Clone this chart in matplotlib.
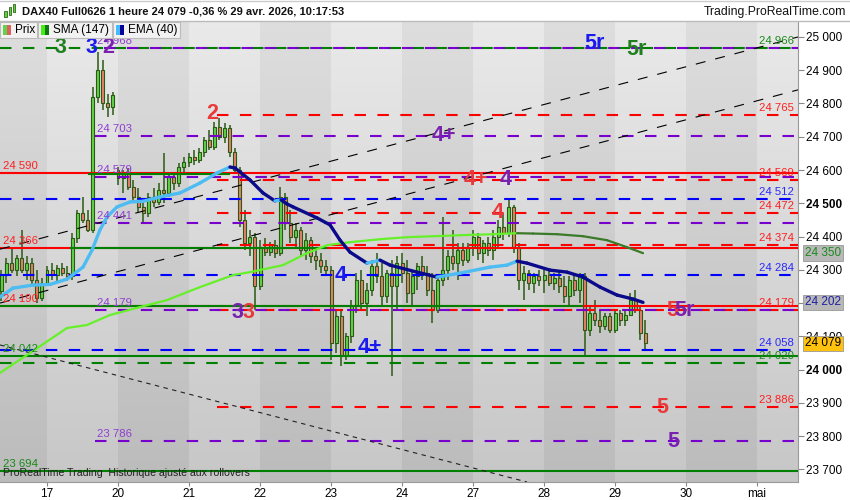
import numpy as np
import matplotlib
matplotlib.use("Agg")
import matplotlib.pyplot as plt
from matplotlib.collections import LineCollection
from matplotlib.patches import Rectangle
from matplotlib.lines import Line2D

plt.rcParams['font.family'] = ['Liberation Sans', 'DejaVu Sans']

# ---- data --------------------------------------------------------------
# x axis in trading days, 0 = 17 avr., one bar per hour (14 slots a day)
day_labels = ['17', '20', '21', '22', '23', '24', '27', '28', '29', '30', 'mai']
sessions = [(-1, 5, 13)] + [(d, 0, 13) for d in range(8)] + [(8, 0, 6)]

opens = [24235, 24285, 24320, 24300, 24335, 24300, 24320, 24270, 24215,
         24260, 24300, 24285, 24305, 24290, 24280, 24395, 24470, 24450, 24420, 24820, 24900, 24800, 24790,
         24600, 24575, 24590, 24550, 24520, 24490, 24470, 24520, 24505, 24540, 24530, 24580, 24560, 24610,
         24625, 24640, 24630, 24655, 24690, 24670, 24730, 24700, 24725, 24655, 24600, 24450, 24380, 24400,
         24250, 24370, 24355, 24375, 24350, 24520, 24440, 24400, 24420, 24360, 24390, 24340, 24330, 24310,
         24300, 24080, 24160, 24040, 24100, 24190, 24270, 24200, 24240, 24310, 24280, 24220, 24290, 24250,
         24320, 24290, 24230, 24280, 24310, 24290, 24240, 24180, 24270, 24300, 24340, 24320, 24360, 24330,
         24370, 24400, 24350, 24380, 24360, 24400, 24430, 24410, 24490, 24370, 24270, 24290, 24260, 24280,
         24270, 24285, 24260, 24275, 24250, 24220, 24270, 24240, 24280, 24120, 24170, 24150, 24130, 24160,
         24120, 24170, 24150, 24165, 24210, 24180, 24110]
highs = [24300, 24335, 24365, 24345, 24420, 24340, 24335, 24300, 24275,
         24310, 24320, 24315, 24320, 24310, 24410, 24480, 24520, 24480, 24850, 24955, 24930, 24830, 24835,
         24610, 24600, 24605, 24570, 24545, 24510, 24530, 24545, 24560, 24650, 24590, 24595, 24620, 24640,
         24650, 24660, 24665, 24700, 24720, 24745, 24755, 24740, 24735, 24665, 24610, 24480, 24420, 24410,
         24390, 24395, 24385, 24390, 24550, 24530, 24480, 24440, 24430, 24410, 24400, 24360, 24350, 24330,
         24310, 24180, 24175, 24110, 24210, 24290, 24300, 24260, 24330, 24350, 24320, 24300, 24330, 24340,
         24350, 24330, 24300, 24320, 24340, 24310, 24290, 24280, 24460, 24360, 24420, 24380, 24380, 24380,
         24420, 24410, 24390, 24400, 24420, 24450, 24470, 24510, 24495, 24380, 24310, 24300, 24290, 24300,
         24300, 24300, 24290, 24300, 24280, 24280, 24290, 24290, 24290, 24190, 24210, 24180, 24170, 24170,
         24180, 24180, 24175, 24230, 24240, 24190, 24150]
lows = [24205, 24260, 24290, 24280, 24290, 24270, 24255, 24200, 24205,
        24250, 24270, 24265, 24280, 24265, 24270, 24380, 24440, 24415, 24410, 24800, 24780, 24760, 24765,
        24555, 24530, 24540, 24500, 24470, 24440, 24460, 24490, 24495, 24500, 24520, 24540, 24550, 24590,
        24610, 24615, 24620, 24640, 24660, 24660, 24690, 24680, 24640, 24590, 24430, 24360, 24340, 24180,
        24240, 24340, 24340, 24335, 24340, 24420, 24380, 24370, 24340, 24330, 24320, 24300, 24290, 24280,
        24030, 24050, 24010, 24030, 24080, 24170, 24180, 24160, 24220, 24260, 24190, 24200, 23980, 24180,
        24260, 24200, 24190, 24240, 24270, 24220, 24140, 24170, 24250, 24270, 24300, 24270, 24310, 24320,
        24340, 24330, 24320, 24340, 24330, 24370, 24390, 24400, 24350, 24240, 24210, 24240, 24230, 24250,
        24230, 24250, 24240, 24230, 24200, 24190, 24220, 24200, 24040, 24100, 24130, 24110, 24120, 24110,
        24110, 24130, 24130, 24160, 24170, 24090, 24060]
closes = [24285, 24320, 24300, 24335, 24300, 24320, 24270, 24215, 24260,
          24300, 24285, 24305, 24290, 24280, 24395, 24470, 24450, 24420, 24820, 24900, 24800, 24790, 24825,
          24575, 24590, 24550, 24520, 24490, 24470, 24520, 24505, 24540, 24530, 24580, 24560, 24610, 24625,
          24640, 24630, 24655, 24690, 24670, 24730, 24700, 24725, 24655, 24600, 24450, 24380, 24400, 24250,
          24370, 24355, 24375, 24350, 24520, 24440, 24400, 24420, 24360, 24390, 24340, 24330, 24310, 24300,
          24080, 24160, 24040, 24100, 24190, 24270, 24200, 24240, 24310, 24280, 24220, 24290, 24250, 24320,
          24290, 24230, 24280, 24310, 24290, 24240, 24180, 24270, 24300, 24340, 24320, 24360, 24330, 24370,
          24400, 24350, 24380, 24360, 24400, 24430, 24410, 24490, 24370, 24270, 24290, 24260, 24280, 24270,
          24285, 24260, 24275, 24250, 24220, 24270, 24240, 24280, 24120, 24170, 24150, 24130, 24160, 24120,
          24170, 24150, 24165, 24210, 24180, 24110, 24079]

sma_days = [-0.662, -0.239, 0.282, 0.563, 0.887, 1.310, 1.690, 2.155, 2.620, 2.859, 3.324, 3.662,
            3.944, 4.268, 4.690, 5.070, 5.817, 6.282, 6.620, 6.845, 7.183, 7.549, 7.887, 8.169, 8.394]
sma_values = [23990, 24050, 24125, 24134, 24164, 24188, 24209, 24248, 24284, 24293, 24314, 24350,
              24374, 24383, 24392, 24398, 24404, 24407, 24410, 24409, 24407, 24401, 24389, 24368, 24350]

ema_days = [-0.662, -0.479, -0.197, 0.042, 0.282, 0.507, 0.634, 0.746, 0.845, 0.986, 1.169, 1.352,
            1.592, 1.873, 2.155, 2.394, 2.577, 2.648, 2.859, 3.042, 3.211, 3.296, 3.380, 3.465,
            3.803, 3.986, 4.127, 4.268, 4.507, 4.592, 4.690, 4.831, 5.211, 5.493, 5.817, 6.239,
            6.479, 6.620, 6.761, 7.085, 7.324, 7.549, 7.789, 8.028, 8.254, 8.394]
ema_values = [24218, 24245, 24254, 24256, 24272, 24308, 24359, 24420, 24459, 24489, 24504, 24506,
              24519, 24531, 24561, 24591, 24609, 24606, 24570, 24531, 24507, 24510, 24498, 24489,
              24456, 24435, 24389, 24353, 24320, 24324, 24329, 24314, 24293, 24278, 24290, 24308,
              24314, 24326, 24320, 24299, 24293, 24278, 24248, 24224, 24212, 24202]

# horizontal levels
purple_levels = [24968, 24703, 24579, 24441, 24179, 23786]   # dashed, from the 17th high
red_dashed_levels = [24765, 24569, 24472, 24374, 24179, 23886]  # dashed, from the 21st high
blue_levels = [24512, 24284, 24058]
green_dashed_levels = [24966, 24020]
red_solid_levels = [24590, 24366, 24190]
green_solid_levels = [24042, 23694]
green_segments = [(24588, 0.58, 2.58), (24366, 0.32, 3.94), (24190, -0.662, 7.55)]
purple_start = 0.68
red_start = 2.39

# trend lines (day, price) -> (day, price)
trend_lines = [(-0.662, 24362, 10.577, 25000), (-0.662, 24200, 10.577, 24841)]
trend_down = (-0.662, 24074, 6.76, 23662)

# wave marks
mark_texts = ['3', '3', '2', '2', '4+', '4+', '4', '4', '4', '3', '3', '4+', '5', '5r', '5', '5', '5r', '5r']
mark_days = [0.183, 0.620, 0.859, 2.324, 5.592, 6.042, 6.465, 6.352, 4.141, 2.676, 2.831, 4.549,
             8.803, 8.972, 8.662, 8.817, 7.704, 8.296]
mark_prices = [24967, 24967, 24967, 24771, 24705, 24570, 24570, 24471, 24284, 24173, 24173, 24065,
               24179, 24179, 23887, 23785, 24979, 24961]
mark_kinds = ['g', 'b', 'p', 'r', 'p', 'r', 'p', 'r', 'b', 'p', 'r', 'b', 'r', 'p', 'r', 'p', 'b', 'g']

# ---- figure ------------------------------------------------------------
W, H = 850, 500
fig = plt.figure(figsize=(W / 100, H / 100), dpi=100, facecolor='white')


def fx(px):
    return px / W


def fy(py):
    return 1 - py / H


ax = fig.add_axes([0, fy(482), fx(798), (482 - 22) / H])
xmin, xmax = -0.662, 10.577
ymin, ymax = 23662, 25045

# background: alternating day bands with a vertical gradient
t = np.linspace(0, 1, 200)[:, None]
light = 0.915 - 0.135 * t
dark = 0.87 - 0.135 * t
is_light = (np.arange(-1, 11) % 2 == 0)[None, :]
shade = np.where(is_light, light, dark)
ax.imshow(np.dstack([shade] * 3), extent=(-1, 11, ymin, ymax), aspect='auto',
          origin='upper', interpolation='nearest', zorder=0)

# candles
xs = np.array([d + k / 14 for d, k0, k1 in sessions for k in range(k0, k1 + 1)])
o = np.array(opens); hi = np.array(highs); lo = np.array(lows); c = np.array(closes)
edge = '#2b5a12'
ax.vlines(xs, lo, hi, color=edge, lw=1.1, zorder=3)
bottoms = np.minimum(o, c)
heights = np.maximum(np.abs(c - o), 3)
body_cols = ['#5fd34a' if cc >= oo else '#e8806e' for oo, cc in zip(o, c)]
ax.bar(xs, heights, bottom=bottoms, width=0.042, color=body_cols, edgecolor=edge,
       linewidth=0.8, zorder=4)

# levels
DASH = (5.5, 5.5)
lab_kw = dict(fontsize=8.2, zorder=9)


def level(price, x0, x1, color, dashed, z=6):
    kw = dict(dashes=DASH) if dashed else {}
    ax.plot([x0, x1], [price, price], color=color, lw=1.5, zorder=z, solid_capstyle='butt', **kw)


def fmt(v):
    return f"{v:,}".replace(',', ' ')


for p in red_solid_levels:
    level(p, xmin, xmax, '#ff0000', False, z=5)
    ax.annotate(fmt(p), (xmin, p), xytext=(2, 1.5), textcoords='offset points',
                color='#ff2020', va='bottom', ha='left', **lab_kw)
for p, a, b in green_segments:
    level(p, a, b, '#008000', False, z=5.5)
for p in green_solid_levels:
    level(p, xmin, xmax, '#008000', False, z=5.5)
    ax.annotate(fmt(p), (xmin, p), xytext=(2, 1.5), textcoords='offset points',
                color='#1a8a1a', va='bottom', ha='left', **lab_kw)
for p in green_dashed_levels:
    level(p, xmin, xmax, '#008000', True)
    ax.annotate(fmt(p), (xmax, p), xytext=(-3, 1.5), textcoords='offset points',
                color='#1a8a1a', va='bottom', ha='right', **lab_kw)
for p in blue_levels:
    level(p, xmin, xmax, '#0000ff', True)
    ax.annotate(fmt(p), (xmax, p), xytext=(-3, 1.5), textcoords='offset points',
                color='#2a2aff', va='bottom', ha='right', **lab_kw)
for p in red_dashed_levels:
    level(p, red_start, xmax, '#ff0000', True)
    ax.annotate(fmt(p), (xmax, p), xytext=(-3, 1.5), textcoords='offset points',
                color='#ff2020', va='bottom', ha='right', **lab_kw)
for p in purple_levels:
    level(p, purple_start + 0.12 * (p > 24900), xmax, '#7700cc', True, z=6.2)
    ax.annotate(fmt(p), (purple_start, p), xytext=(1, 1.5), textcoords='offset points',
                color='#8e3fd2', va='bottom', ha='left', **lab_kw)

# trend lines
for x0, p0, x1, p1 in trend_lines:
    ax.plot([x0, x1], [p0, p1], color='black', lw=0.8, dashes=(9, 9), zorder=6.5)
ax.plot(trend_down[::2], trend_down[1::2], color='#222222', lw=0.8, dashes=(4, 4), zorder=6.5)


# moving averages, coloured by direction
def colored_line(xv, yv, up, down, lw, z):
    pts = np.column_stack([xv, yv])
    segs = np.stack([pts[:-1], pts[1:]], axis=1)
    cols = [up if b > a else down for a, b in zip(yv[:-1], yv[1:])]
    ax.add_collection(LineCollection(segs, colors=cols, linewidths=lw, capstyle='round',
                                     joinstyle='round', zorder=z))


colored_line(sma_days, sma_values, '#66f02a', '#3a7a28', 1.6, 7)
colored_line(ema_days, ema_values, '#4cbcf2', '#0a0a8a', 2.4, 7.5)

# wave marks
kind_col = {'g': '#1f7f1f', 'b': '#1a1aee', 'p': '#7a22b0', 'r': '#e83a3a'}
for s, d, p, k in zip(mark_texts, mark_days, mark_prices, mark_kinds):
    ax.text(d, p, s, color=kind_col[k], fontsize=15.5, fontweight='bold', ha='center',
            va='center', zorder=10)

ax.text(0.004, 0.008, 'ProRealTime Trading  Historique ajusté aux rollovers', transform=ax.transAxes,
        fontsize=7.6, color='#222222', ha='left', va='bottom', zorder=10)

ax.set_xlim(xmin, xmax)
ax.set_ylim(ymin, ymax)

# axes
ax.yaxis.tick_right()
yt = list(range(23700, 25001, 100))
ax.set_yticks(yt)
ax.set_yticklabels([fmt(v) for v in yt])
for v, lab in zip(yt, ax.get_yticklabels()):
    if v in (24000, 24500):
        lab.set_fontweight('bold')
        lab.set_fontsize(9.5)
ax.tick_params(axis='y', length=4, color='#888888', labelsize=8.5, pad=2)
ax.set_xticks(range(len(day_labels)))
ax.set_xticklabels(day_labels)
ax.tick_params(axis='x', length=3, color='#888888', labelsize=8.5, pad=1)
for side in ('top', 'left'):
    ax.spines[side].set_visible(False)
for side in ('right', 'bottom'):
    ax.spines[side].set_color('#999999')

# value boxes on the price scale
boxes = [(sma_values[-1], '#1a8a1a', '#b8b8b8'), (ema_values[-1], '#2020a0', '#b8b8b8'),
         (closes[-1], '#000000', '#ffc20e')]
for v, tc, bc in boxes:
    ax.annotate(fmt(v), (1.0, v), xycoords=('axes fraction', 'data'), xytext=(5, 0),
                textcoords='offset points', fontsize=8.5, color=tc, va='center', ha='left',
                annotation_clip=False, zorder=12,
                bbox=dict(boxstyle='square,pad=0.15', fc=bc, ec='#999999', lw=0.6))

# header
fig.add_artist(Line2D([0, 1], [fy(21), fy(21)], color='#bbbbbb', lw=1))
fig.add_artist(Line2D([0, 1], [fy(0.5), fy(0.5)], color='#cccccc', lw=1))
for i, (y0, y1) in enumerate([(11, 17), (7, 15), (4, 12)]):
    fig.add_artist(Rectangle((fx(4 + 4.5 * i), fy(y1)), fx(2.5), (y1 - y0) / H,
                             fc='#66cc44', ec='#2b6a12', lw=0.6))
fig.text(fx(22), fy(11), 'DAX40 Full0626 1 heure 24 079 -0,36 % 29 avr. 2026, 10:17:53',
         fontsize=8, fontweight='bold', va='center', ha='left', color='#111111')
fig.text(fx(846), fy(12), 'Trading.ProRealTime.com', fontsize=8.8, va='center', ha='right',
         color='#111111')

# legend boxes
legend = [('Prix', 0, 37, '#5fd34a', '#e06060'), ('SMA (147)', 38, 112, '#44ee11', '#117711'),
          ('EMA (40)', 113, 180, '#44bbff', '#000099')]
for name, a, b, c1, c2 in legend:
    fig.add_artist(Rectangle((fx(a), fy(38)), fx(b - a), 16 / H, fc='#f2f2f2', ec='#bbbbbb', lw=0.8,
                             zorder=20))
    fig.add_artist(Rectangle((fx(a + 3), fy(35)), fx(4), 10 / H, fc=c1, ec='none', zorder=21))
    fig.add_artist(Rectangle((fx(a + 7), fy(35)), fx(4), 10 / H, fc=c2, ec='none', zorder=21))
    fig.text(fx(a + 15), fy(30), name, fontsize=8.5, va='center', ha='left', zorder=22)

fig.savefig('out.png', dpi=100, facecolor='white')
